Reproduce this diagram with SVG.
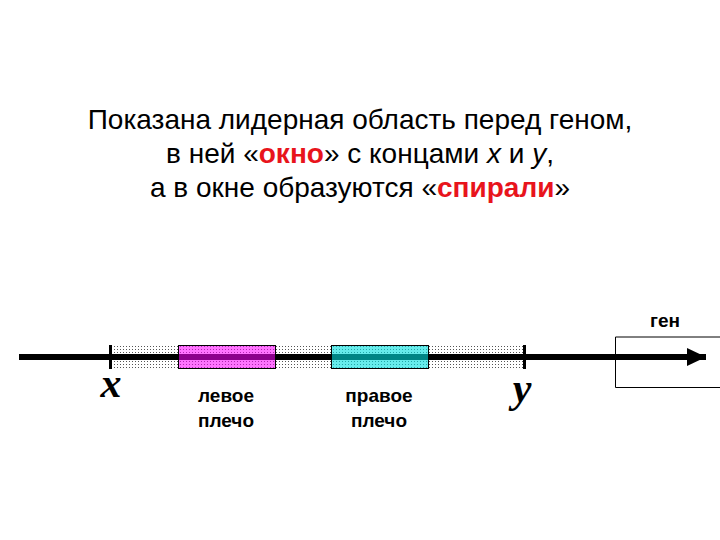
<svg xmlns="http://www.w3.org/2000/svg" width="720" height="540" viewBox="0 0 720 540">
<style>
.title{font-family:"Liberation Sans",Arial,sans-serif;font-size:28px;fill:#000;text-anchor:middle}
.red{font-weight:bold;fill:#e8141c}
.it{font-style:italic}
.lbl{font-family:"Liberation Sans",Arial,sans-serif;font-size:19px;font-weight:bold;fill:#000;text-anchor:middle}
.end{font-family:"Liberation Serif","Times New Roman",serif;font-size:42px;font-weight:bold;font-style:italic;fill:#000;text-anchor:middle}
.tick{stroke:#000;stroke-width:3}
</style>
<defs>
<pattern id="dots" x="110" y="345" width="3" height="3" patternUnits="userSpaceOnUse">
<rect x="1" y="1" width="1" height="1" fill="#555"/>
</pattern>
<marker id="ah" markerWidth="20" markerHeight="18" refX="19" refY="9" orient="auto" markerUnits="userSpaceOnUse">
<path d="M0,0 L19,9 L0,18 Z" fill="#000"/>
</marker>
</defs>
<g id="title">
<text class="title" x="360" y="129">Показана лидерная область перед геном,</text>
<text class="title" x="360" y="163">в ней «<tspan class="red">окно</tspan>» с концами <tspan class="it">x</tspan> и <tspan class="it">y</tspan>,</text>
<text class="title" x="360" y="197">а в окне образуются «<tspan class="red">спирали</tspan>»</text>
</g>
<g id="window">
<rect x="110" y="345" width="414" height="24" fill="url(#dots)"/>
</g>
<g id="gene">
<path d="M721,337 H615.5 V387.5 H721" fill="none" stroke="#000" stroke-width="1"/>
<text class="lbl" x="665" y="327">ген</text>
</g>
<g id="connectors">
<line x1="19" y1="357" x2="706" y2="357" stroke="#000" stroke-width="6" marker-end="url(#ah)"/>
</g>
<g id="tick-x">
<line class="tick" x1="110.5" y1="345" x2="110.5" y2="369"/>
<text class="end" x="111" y="397">x</text>
</g>
<g id="tick-y">
<line class="tick" x1="524.5" y1="345" x2="524.5" y2="369"/>
<text class="end" x="522" y="402">y</text>
</g>
<g id="left-arm">
<rect x="178.5" y="345.5" width="97" height="23" fill="#ff00ff" fill-opacity="0.55" stroke="#000" stroke-width="1"/>
<text class="lbl" x="226" y="402">левое</text>
<text class="lbl" x="226" y="427">плечо</text>
</g>
<g id="right-arm">
<rect x="331.5" y="345.5" width="97" height="23" fill="#00e0e0" fill-opacity="0.6" stroke="#000" stroke-width="1"/>
<text class="lbl" x="379" y="402">правое</text>
<text class="lbl" x="379" y="427">плечо</text>
</g>
</svg>
